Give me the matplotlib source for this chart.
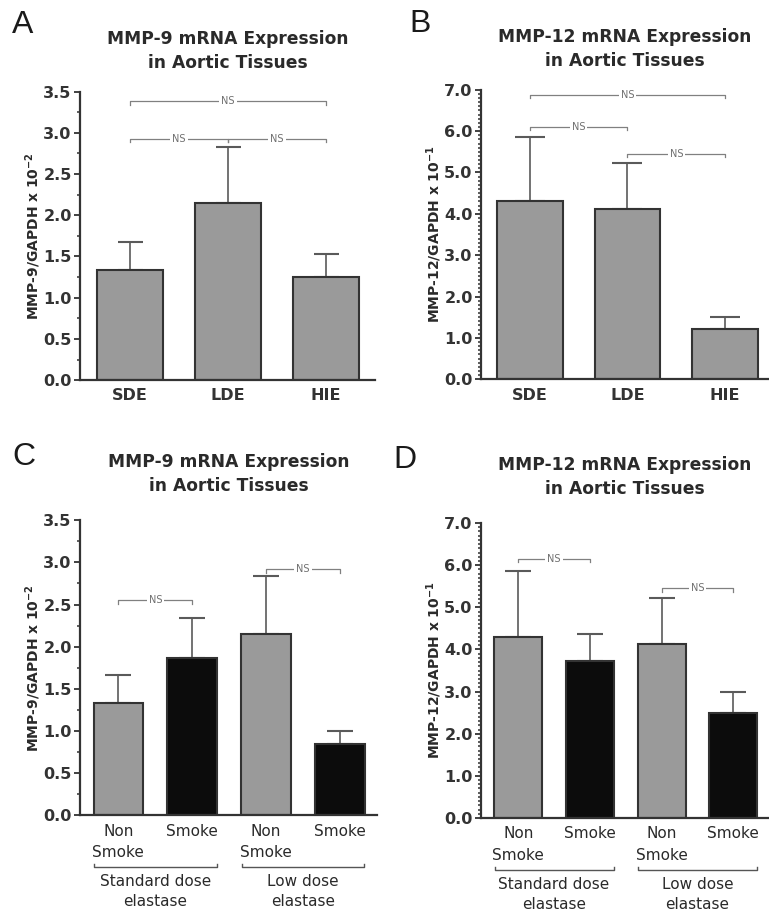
import numpy as np
import matplotlib
matplotlib.use("Agg")
import matplotlib.pyplot as plt
from matplotlib.ticker import MultipleLocator, FormatStrFormatter

plt.rcParams["font.family"] = ["DejaVu Sans"]

GRAY = "#9a9a9a"
BLACK = "#0c0c0c"
EDGE = "#333333"
TXT = "#2a2a2a"

# Panel A / B: three elastase groups
groups_ab = ["SDE", "LDE", "HIE"]
mmp9_ab = [1.33, 2.15, 1.25]
mmp9_ab_err = [0.34, 0.68, 0.28]
mmp12_ab = [4.30, 4.12, 1.22]
mmp12_ab_err = [1.55, 1.10, 0.28]

# Panel C / D: smoke vs non smoke
labels_cd = ["Non\nSmoke", "Smoke", "Non\nSmoke", "Smoke"]
colors_cd = [GRAY, BLACK, GRAY, BLACK]
mmp9_cd = [1.33, 1.86, 2.15, 0.85]
mmp9_cd_err = [0.34, 0.48, 0.69, 0.15]
mmp12_cd = [4.30, 3.72, 4.12, 2.50]
mmp12_cd_err = [1.55, 0.65, 1.10, 0.50]
dose_labels = ["Standard dose\nelastase", "Low dose\nelastase"]

# NS brackets: (from, to, height)
ns_a = [(0, 2, 3.38), (0, 1, 2.93), (1, 2, 2.93)]
ns_b = [(0, 2, 6.88), (0, 1, 6.10), (1, 2, 5.45)]
ns_c = [(0, 1, 2.55), (2, 3, 2.92)]
ns_d = [(0, 1, 6.15), (2, 3, 5.45)]

title9 = "MMP-9 mRNA Expression\nin Aortic Tissues"
title12 = "MMP-12 mRNA Expression\nin Aortic Tissues"
ylab9 = r"MMP-9/GAPDH x 10$^{\mathbf{-2}}$"
ylab12 = r"MMP-12/GAPDH x 10$^{\mathbf{-1}}$"


def ns_bracket(ax, x0, x1, y, tick):
    ax.plot([x0, x0, x1, x1], [y - tick, y, y, y - tick],
            color="#808080", lw=0.9, zorder=4)
    ax.text((x0 + x1) / 2, y, "NS", ha="center", va="center", fontsize=7,
            color="#707070", zorder=5,
            bbox=dict(boxstyle="square,pad=0.2", fc="white", ec="none"))


def draw_panel(ax, vals, errs, colors, ylim, major, minor, ylabel, title, brackets, pad, cap):
    x = np.arange(len(vals))
    ax.bar(x, vals, width=0.67, color=colors, edgecolor=EDGE, linewidth=1.5, zorder=2)
    ax.errorbar(x, vals, yerr=[np.zeros(len(errs)), errs], fmt="none",
                ecolor="#5a5a5a", elinewidth=1.2, capsize=cap, capthick=1.5, zorder=1)
    ax.set_ylim(0, ylim)
    ax.yaxis.set_major_locator(MultipleLocator(major))
    ax.yaxis.set_minor_locator(MultipleLocator(minor))
    ax.yaxis.set_major_formatter(FormatStrFormatter("%.1f"))
    ax.spines["top"].set_visible(False)
    ax.spines["right"].set_visible(False)
    for s in ("left", "bottom"):
        ax.spines[s].set_linewidth(1.6)
        ax.spines[s].set_color("#333333")
    ax.tick_params(axis="y", which="major", length=4, width=1.3, labelsize=11.5,
                   colors="#333333", pad=2)
    ax.tick_params(axis="y", which="minor", length=2.5, width=1.1, colors="#333333")
    ax.tick_params(axis="x", length=0, labelsize=11.5, pad=6, colors="#333333")
    for lab in ax.get_yticklabels():
        lab.set_fontweight("bold")
    ax.set_ylabel(ylabel, fontsize=10, fontweight="bold", labelpad=0, color=TXT)
    ax.set_title(title, fontsize=12.3, fontweight="bold", pad=pad, linespacing=1.45, color=TXT)
    for x0, x1, y in brackets:
        ns_bracket(ax, x0, x1, y, ylim * 0.012)
    ax.set_xticks(x)


fig = plt.figure(figsize=(7.69, 9.16), dpi=100)
axA = fig.add_axes([0.104, 0.585, 0.384, 0.315])
axB = fig.add_axes([0.6255, 0.586, 0.3745, 0.316])
axC = fig.add_axes([0.104, 0.110, 0.386, 0.322])
axD = fig.add_axes([0.6255, 0.107, 0.3745, 0.322])

draw_panel(axA, mmp9_ab, mmp9_ab_err, GRAY, 3.5, 0.5, 0.25, ylab9, title9, ns_a, 17, 9)
axA.set_xticklabels(groups_ab, fontweight="bold")
axA.set_xlim(-0.51, 2.5)

draw_panel(axB, mmp12_ab, mmp12_ab_err, GRAY, 7.0, 1.0, 0.1, ylab12, title12, ns_b, 17, 11)
axB.set_xticklabels(groups_ab, fontweight="bold")
axB.set_xlim(-0.5, 2.45)

for ax, vals, errs, ylim, major, minor, ylab, title, br in [
        (axC, mmp9_cd, mmp9_cd_err, 3.5, 0.5, 0.25, ylab9, title9, ns_c),
        (axD, mmp12_cd, mmp12_cd_err, 7.0, 1.0, 0.1, ylab12, title12, ns_d)]:
    draw_panel(ax, vals, errs, colors_cd, ylim, major, minor, ylab, title, br, 21, 9.5)
    ax.set_xticklabels(labels_cd, fontsize=11, linespacing=1.55, color=TXT)
    ax.set_xlim(-0.52, 3.5)
    trans = ax.get_xaxis_transform()
    for i, lab in enumerate(dose_labels):
        x0, x1 = 2 * i - 0.33, 2 * i + 1.33
        ax.plot([x0, x0, x1, x1], [-0.165, -0.175, -0.175, -0.165], transform=trans,
                color="#555555", lw=1.0, clip_on=False)
        ax.text((x0 + x1) / 2, -0.2, lab, transform=trans, ha="center", va="top",
                fontsize=11, linespacing=1.4, color=TXT)

# panel letters
for x, y, s in [(0.016, 0.973, "A"), (0.532, 0.974, "B"), (0.016, 0.501, "C"), (0.512, 0.498, "D")]:
    fig.text(x, y, s, fontsize=23, family="Liberation Sans", va="center", color="#1a1a1a")

fig.savefig("out.png", dpi=100, facecolor="white")
